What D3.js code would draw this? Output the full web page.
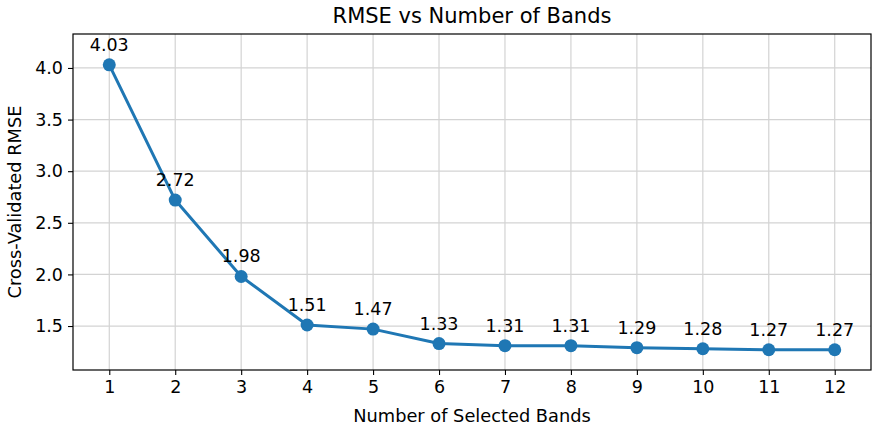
<!DOCTYPE html>
<html>
<head>
<meta charset="utf-8">
<script src="https://cdn.jsdelivr.net/npm/d3@7"></script>
<style>
  body { margin: 0; background: #fff; }
  text { font-family: "DejaVu Sans", sans-serif; fill: #000; }
</style>
</head>
<body>
<svg id="chart" width="879" height="429"></svg>
<script>
// data
const bands = [1, 2, 3, 4, 5, 6, 7, 8, 9, 10, 11, 12];
const rmse = [4.03, 2.72, 1.98, 1.51, 1.47, 1.33, 1.31, 1.31, 1.29, 1.28, 1.27, 1.27];
const yTicks = [1.5, 2.0, 2.5, 3.0, 3.5, 4.0];

const svg = d3.select("svg#chart");
const margin = { top: 34, right: 8, bottom: 59, left: 73 };
const width = +svg.attr("width");
const height = +svg.attr("height");
const chartWidth = width - margin.left - margin.right;
const chartHeight = height - margin.top - margin.bottom;

const x = d3.scaleLinear().domain([0.45, 12.55]).range([0, chartWidth]);
const y = d3.scaleLinear().domain([1.074, 4.329]).range([chartHeight, 0]);

const g = svg.append("g").attr("transform", `translate(${margin.left},${margin.top})`);

// grid
g.append("g")
  .selectAll("line")
  .data(bands)
  .join("line")
  .attr("x1", d => x(d)).attr("x2", d => x(d))
  .attr("y1", 0).attr("y2", chartHeight)
  .style("stroke", "#d3d3d3").style("stroke-width", 1.2);

g.append("g")
  .selectAll("line")
  .data(yTicks)
  .join("line")
  .attr("x1", 0).attr("x2", chartWidth)
  .attr("y1", d => y(d)).attr("y2", d => y(d))
  .style("stroke", "#d3d3d3").style("stroke-width", 1.2);

// axes
const xAxis = g.append("g")
  .attr("transform", `translate(0,${chartHeight})`)
  .call(d3.axisBottom(x).tickValues(bands).tickFormat(d3.format("d")).tickSize(5).tickPadding(6));
const yAxis = g.append("g")
  .call(d3.axisLeft(y).tickValues(yTicks).tickFormat(d3.format(".1f")).tickSize(5).tickPadding(5));

[xAxis, yAxis].forEach(a => {
  a.select(".domain").remove();
  a.selectAll("line").style("stroke", "#000").style("stroke-width", 1.1);
  a.selectAll("text").style("font-size", "17.5px").style("font-family", "DejaVu Sans, sans-serif");
});

// frame
g.append("rect")
  .attr("x", 0).attr("y", 0)
  .attr("width", chartWidth).attr("height", chartHeight)
  .attr("fill", "none")
  .style("stroke", "#000").style("stroke-width", 1.2);

// line + markers
const pts = bands.map((b, i) => [b, rmse[i]]);
g.append("path")
  .datum(pts)
  .attr("fill", "none")
  .style("stroke", "#1f77b4")
  .style("stroke-width", 3)
  .style("stroke-linejoin", "round")
  .attr("d", d3.line().x(d => x(d[0])).y(d => y(d[1])));

g.append("g")
  .selectAll("circle")
  .data(pts)
  .join("circle")
  .attr("cx", d => x(d[0]))
  .attr("cy", d => y(d[1]))
  .attr("r", 6.5)
  .attr("fill", "#1f77b4");

// value labels
g.append("g")
  .selectAll("text")
  .data(pts)
  .join("text")
  .attr("x", d => x(d[0]))
  .attr("y", d => y(d[1]) - 14)
  .attr("text-anchor", "middle")
  .style("font-size", "17.5px")
  .text(d => d[1].toFixed(2));

// titles
svg.append("text")
  .attr("x", margin.left + chartWidth / 2)
  .attr("y", 23)
  .attr("text-anchor", "middle")
  .style("font-size", "21px")
  .text("RMSE vs Number of Bands");

svg.append("text")
  .attr("x", margin.left + chartWidth / 2)
  .attr("y", 422)
  .attr("text-anchor", "middle")
  .style("font-size", "17.8px")
  .text("Number of Selected Bands");

svg.append("text")
  .attr("transform", `translate(21,${margin.top + chartHeight / 2}) rotate(-90)`)
  .attr("text-anchor", "middle")
  .style("font-size", "17.8px")
  .text("Cross-Validated RMSE");
</script>
</body>
</html>
